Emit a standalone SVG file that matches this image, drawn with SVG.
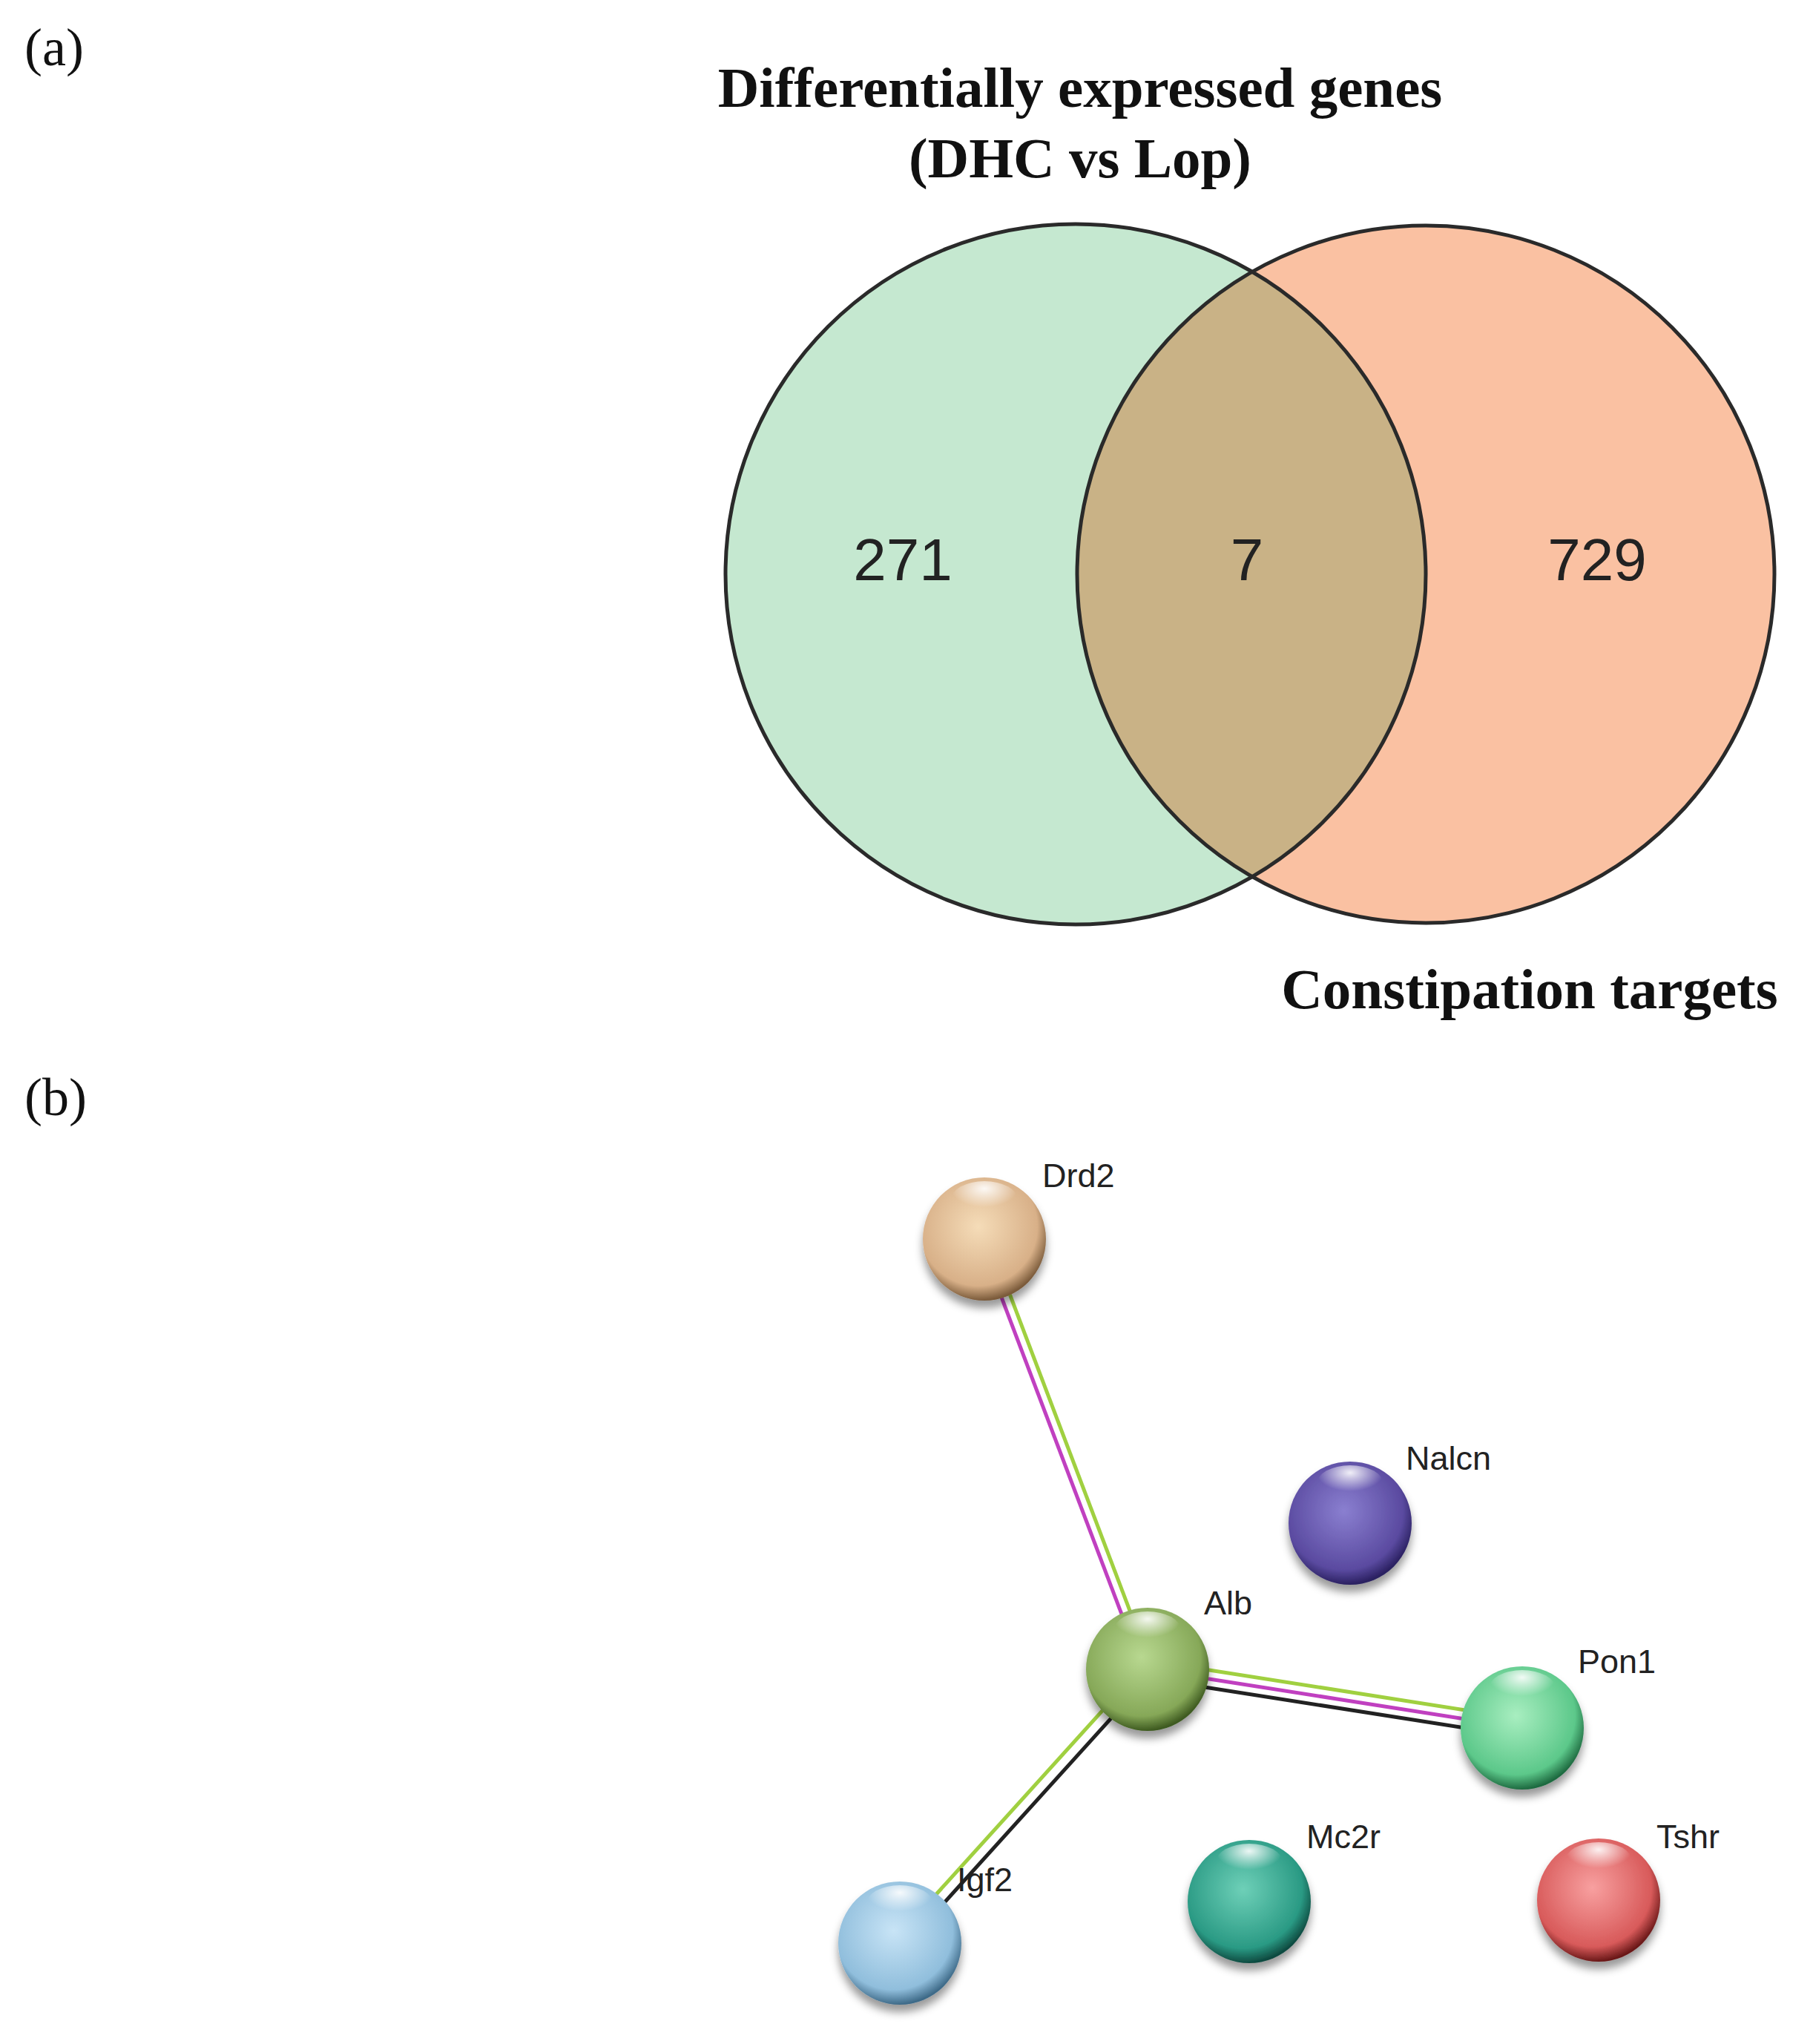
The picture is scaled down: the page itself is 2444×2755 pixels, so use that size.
<svg xmlns="http://www.w3.org/2000/svg" width="2444" height="2755" viewBox="0 0 2444 2755">
<style>
.serif{font-family:"Liberation Serif","Times New Roman",serif}
.t{font-family:"Liberation Serif",serif;font-weight:bold;font-size:77px;text-anchor:middle;fill:#111}
.n{font-family:"Liberation Sans",Arial,sans-serif;font-size:80px;text-anchor:middle;fill:#222}
.lab{font-family:"Liberation Sans",Arial,sans-serif;font-size:45px;fill:#222}
.sph{stroke:none}
.e{fill:none;stroke-width:5}
</style>
<defs>
<radialGradient id="hl" cx="0.5" cy="0.2" r="0.5"><stop offset="0" stop-color="#fff" stop-opacity="0.9"/><stop offset="1" stop-color="#fff" stop-opacity="0"/></radialGradient>
<radialGradient id="g1" cx="0.45" cy="0.4" r="0.6"><stop offset="0" stop-color="#f5dcb8"/><stop offset="0.8" stop-color="#d8b088"/><stop offset="1" stop-color="#7a5a3a"/></radialGradient>
<radialGradient id="g2" cx="0.45" cy="0.4" r="0.6"><stop offset="0" stop-color="#8a7fd0"/><stop offset="0.8" stop-color="#5a4aa0"/><stop offset="1" stop-color="#2a2060"/></radialGradient>
<radialGradient id="g3" cx="0.45" cy="0.4" r="0.6"><stop offset="0" stop-color="#b8d890"/><stop offset="0.8" stop-color="#86a858"/><stop offset="1" stop-color="#3e5a20"/></radialGradient>
<radialGradient id="g4" cx="0.45" cy="0.4" r="0.6"><stop offset="0" stop-color="#a8eec0"/><stop offset="0.8" stop-color="#5cc88a"/><stop offset="1" stop-color="#1e6a40"/></radialGradient>
<radialGradient id="g5" cx="0.45" cy="0.4" r="0.6"><stop offset="0" stop-color="#c8e4f6"/><stop offset="0.8" stop-color="#90bedc"/><stop offset="1" stop-color="#3e6a88"/></radialGradient>
<radialGradient id="g6" cx="0.45" cy="0.4" r="0.6"><stop offset="0" stop-color="#6ed0b8"/><stop offset="0.8" stop-color="#2a9a84"/><stop offset="1" stop-color="#0e4a40"/></radialGradient>
<radialGradient id="g7" cx="0.45" cy="0.4" r="0.6"><stop offset="0" stop-color="#f8a0a0"/><stop offset="0.8" stop-color="#d85a5a"/><stop offset="1" stop-color="#6a1818"/></radialGradient>
<filter id="sh" x="-30%" y="-30%" width="160%" height="170%"><feDropShadow dx="0" dy="10" stdDeviation="6" flood-color="#000" flood-opacity="0.4"/></filter>
</defs>
<rect width="2444" height="2755" fill="#fff"/>
<text class="serif" x="33" y="88" font-size="72" fill="#111">(a)</text>
<text class="serif" x="33" y="1503" font-size="72" fill="#111">(b)</text>
<g id="venn">
<circle cx="1922" cy="774" r="470" fill="#f8a070" fill-opacity="0.65"/>
<circle cx="1450" cy="774" r="472" fill="#9ed8b0" fill-opacity="0.6"/>
<clipPath id="cl"><circle cx="1450" cy="774" r="472"/></clipPath>
<circle cx="1922" cy="774" r="470" fill="#c9b286" clip-path="url(#cl)"/>
<circle cx="1450" cy="774" r="472" fill="none" stroke="#2a2a2a" stroke-width="5"/>
<circle cx="1922" cy="774" r="470" fill="none" stroke="#2a2a2a" stroke-width="5"/>
<text class="t" x="1456" y="144">Differentially expressed genes</text>
<text class="t" x="1456" y="239">(DHC vs Lop)</text>
<text class="t" x="2062" y="1359" font-size="80">Constipation targets</text>
<text class="n" x="1217" y="782">271</text>
<text class="n" x="1681" y="782">7</text>
<text class="n" x="2153" y="782">729</text>
</g>
<g id="connectors">
<line class="e" x1="1333" y1="1670" x2="1553" y2="2250" stroke="#a0d040"/>
<line class="e" x1="1321" y1="1672" x2="1541" y2="2252" stroke="#c040c0"/>
<line class="e" x1="1547" y1="2238" x2="2052" y2="2317" stroke="#a0d040"/>
<line class="e" x1="1547" y1="2250" x2="2052" y2="2329" stroke="#c040c0"/>
<line class="e" x1="1547" y1="2262" x2="2052" y2="2341" stroke="#222"/>
<line class="e" x1="1541" y1="2245" x2="1207" y2="2614" stroke="#a0d040"/>
<line class="e" x1="1553" y1="2255" x2="1219" y2="2624" stroke="#222"/>
</g>
<g id="Drd2"><circle class="sph" cx="1327" cy="1670" r="83" fill="url(#g1)" filter="url(#sh)"/><ellipse cx="1327" cy="1617" rx="45" ry="25" fill="url(#hl)"/><text class="lab" x="1405" y="1600">Drd2</text></g>
<g id="Nalcn"><circle class="sph" cx="1820" cy="2053" r="83" fill="url(#g2)" filter="url(#sh)"/><ellipse cx="1820" cy="2000" rx="45" ry="25" fill="url(#hl)"/><text class="lab" x="1895" y="1981">Nalcn</text></g>
<g id="Alb"><circle class="sph" cx="1547" cy="2250" r="83" fill="url(#g3)" filter="url(#sh)"/><ellipse cx="1547" cy="2197" rx="45" ry="25" fill="url(#hl)"/><text class="lab" x="1623" y="2176">Alb</text></g>
<g id="Pon1"><circle class="sph" cx="2052" cy="2329" r="83" fill="url(#g4)" filter="url(#sh)"/><ellipse cx="2052" cy="2276" rx="45" ry="25" fill="url(#hl)"/><text class="lab" x="2127" y="2255">Pon1</text></g>
<g id="Igf2"><circle class="sph" cx="1213" cy="2619" r="83" fill="url(#g5)" filter="url(#sh)"/><ellipse cx="1213" cy="2566" rx="45" ry="25" fill="url(#hl)"/><text class="lab" x="1290" y="2549">Igf2</text></g>
<g id="Mc2r"><circle class="sph" cx="1684" cy="2563" r="83" fill="url(#g6)" filter="url(#sh)"/><ellipse cx="1684" cy="2510" rx="45" ry="25" fill="url(#hl)"/><text class="lab" x="1761" y="2491">Mc2r</text></g>
<g id="Tshr"><circle class="sph" cx="2155" cy="2561" r="83" fill="url(#g7)" filter="url(#sh)"/><ellipse cx="2155" cy="2508" rx="45" ry="25" fill="url(#hl)"/><text class="lab" x="2233" y="2491">Tshr</text></g>
</svg>
